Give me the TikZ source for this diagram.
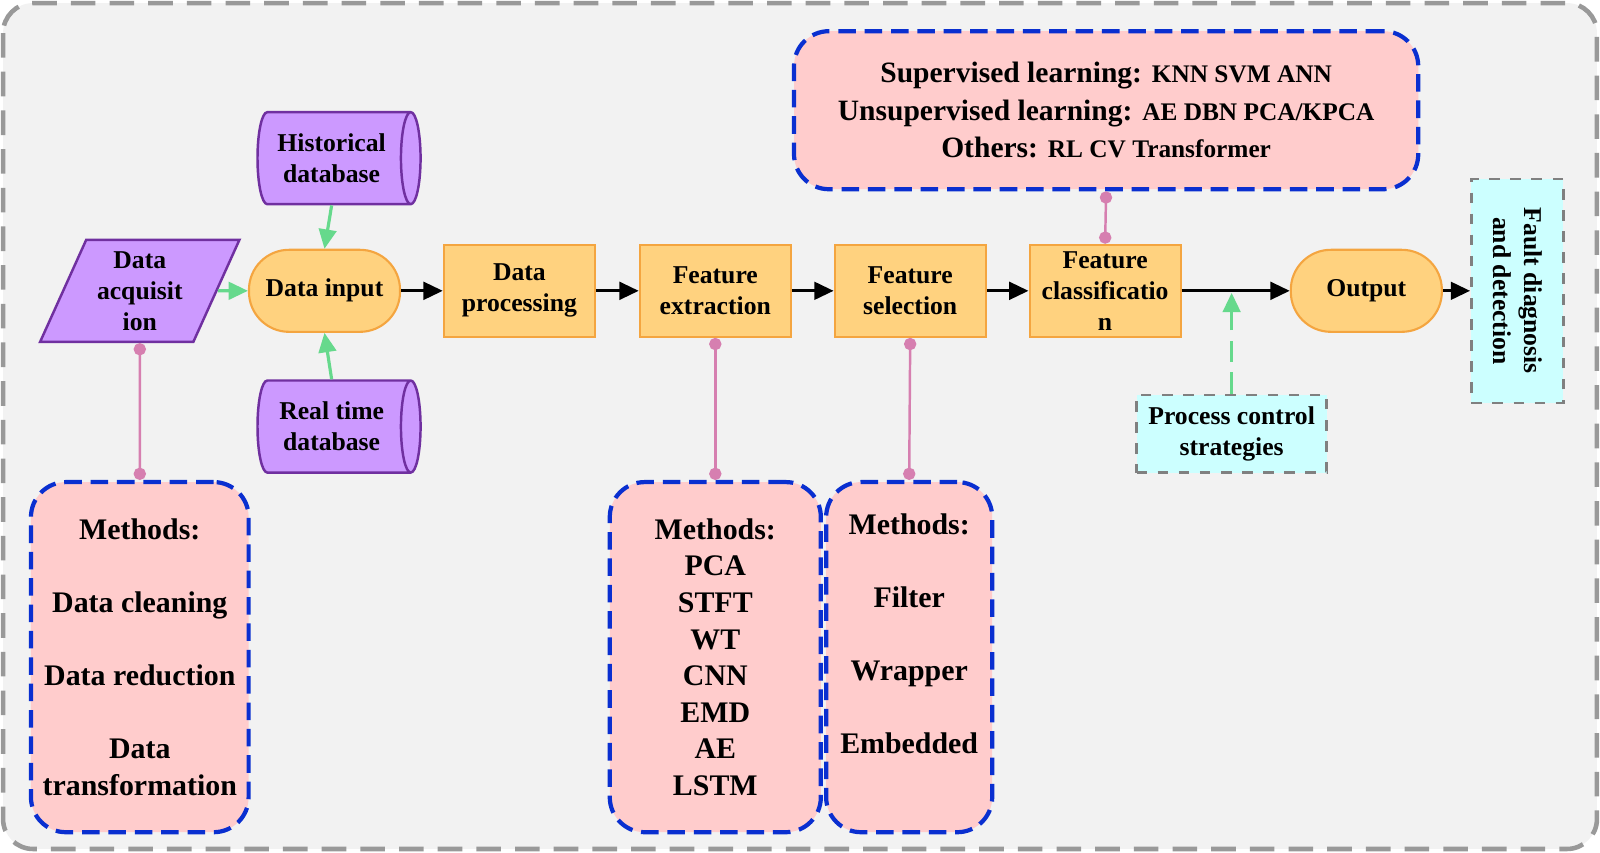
\documentclass[tikz,border=0pt]{standalone}
\usepackage{fontspec}
\setmainfont{Liberation Serif}
\usetikzlibrary{shapes.geometric,arrows.meta}
\definecolor{bgc}{HTML}{F2F2F2}
\definecolor{purf}{HTML}{CC99FF}
\definecolor{purd}{HTML}{7030A0}
\definecolor{orf}{HTML}{FFD27F}
\definecolor{ord}{HTML}{F4A540}
\definecolor{pinkf}{HTML}{FFCCCC}
\definecolor{blued}{HTML}{0A2FD0}
\definecolor{cyf}{HTML}{CCFFFF}
\definecolor{grn}{HTML}{66D98C}
\definecolor{lnk}{HTML}{D67FB0}
\tikzset{
 txt/.style={font=\bfseries\fontsize{7.3}{8.8}\selectfont,align=center},
 proc/.style={txt,draw=ord,fill=orf,line width=0.6pt,minimum width=15.1mm,minimum height=9.2mm,inner sep=1pt},
 term/.style={proc,rounded corners=4mm,minimum height=8.2mm},
 db/.style={txt,cylinder,shape aspect=0.35,draw=purd,fill=purf,line width=0.7pt,minimum width=9.2mm,minimum height=16.3mm,inner sep=1pt},
 meth/.style={font=\bfseries\fontsize{8.5}{10.4}\selectfont,align=center,draw=blued,fill=pinkf,line width=1.2pt,dash pattern=on 5pt off 2.5pt,rounded corners=3.5mm,minimum height=35mm},
 info/.style={txt,draw=gray,fill=cyf,line width=0.7pt,dashed},
 link/.style={draw=lnk,line width=0.7pt,{Circle[length=3.5pt]}-{Circle[length=3.5pt]}},
 garr/.style={draw=grn,line width=0.9pt,-{Triangle[length=5.5pt,width=5pt]}},
 barr/.style={draw=black,line width=0.9pt,-{Triangle[length=5.5pt,width=5pt]}},
}
\begin{document}
\begin{tikzpicture}[x=0.102mm,y=-0.102mm]
\useasboundingbox (0,0) rectangle (1568,835);
\draw[fill=bgc,draw=gray!80,line width=1.3pt,dash pattern=on 7pt off 4pt,rounded corners=3mm] (3,3) rectangle (1565,832);

\node[txt,trapezium,trapezium left angle=65,trapezium right angle=115,draw=purd,fill=purf,line width=0.7pt,minimum width=20mm,minimum height=10.2mm,trapezium stretches=true,inner sep=0pt] (acq) at (137,285) {Data\\acquisit\\ion};
\node[db] (hist) at (325,155) {Historical\\database};
\node[db] (rt) at (325,418) {Real time\\database};
\node[term] (inp) at (318,285) {Data input};
\node[proc] (dp) at (509,285) {Data\\processing};
\node[proc] (fe) at (701,285) {Feature\\extraction};
\node[proc] (fs) at (892,285) {Feature\\selection};
\node[proc] (fc) at (1083,285) {Feature\\classificatio\\n};
\node[term] (out) at (1339,285) {Output};
\node[info,minimum width=9.2mm,minimum height=22.4mm] (fd) at (1487,285) {};
\node[txt,rotate=-90] at (fd.center) {Fault diagnosis\\and detection};
\node[info,minimum width=18.1mm,minimum height=7.2mm] (pc) at (1207,425) {Process control\\strategies};

\node[meth,minimum width=62.4mm,minimum height=15.8mm,font=\bfseries\fontsize{8.4}{10.6}\selectfont] (sup) at (1084,108)
 {Supervised learning: {\fontsize{7.2}{8}\selectfont KNN SVM ANN}\\Unsupervised learning: {\fontsize{7.2}{8}\selectfont AE DBN PCA/KPCA}\\Others: {\fontsize{7.2}{8}\selectfont RL CV Transformer}};
\node[meth,minimum width=20.9mm] (m1) at (137,644) {Methods:\\\strut\\Data cleaning\\\strut\\Data reduction\\\strut\\Data\\transformation};
\node[meth,minimum width=21.1mm] (m2) at (701,644) {Methods:\\PCA\\STFT\\WT\\CNN\\EMD\\AE\\LSTM};
\node[meth,minimum width=16.6mm] (m3) at (891,644) {Methods:\\\strut\\Filter\\\strut\\Wrapper\\\strut\\Embedded\\\strut};

\draw[link] (acq.south) -- (m1.north);
\draw[link] (fe.south) -- (m2.north);
\draw[link] (fs.south) -- (m3.north);
\draw[link] (fc.north) -- (sup.south);

\draw[garr] (hist.south) -- (inp.north);
\draw[garr] (rt.north) -- (inp.south);
\draw[garr] (acq.east) -- (inp.west);
\coordinate (pcj) at (1207,287);
\draw[garr,dash pattern=on 6pt off 3pt] (pc.north) -- (pcj);

\draw[barr] (inp) -- (dp);
\draw[barr] (dp) -- (fe);
\draw[barr] (fe) -- (fs);
\draw[barr] (fs) -- (fc);
\draw[barr] (fc) -- (out);
\draw[barr] (out) -- (fd);
\end{tikzpicture}
\end{document}
